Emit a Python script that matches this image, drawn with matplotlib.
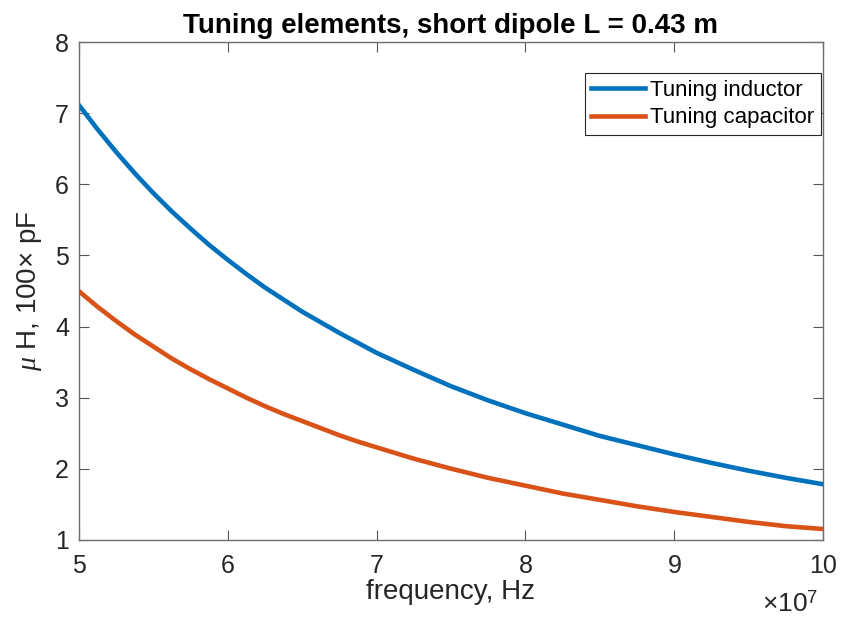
import matplotlib
matplotlib.use("Agg")
import matplotlib.pyplot as plt
from matplotlib.ticker import FuncFormatter

plt.rcParams['font.family'] = ['Liberation Sans', 'DejaVu Sans']
plt.rcParams['mathtext.fontset'] = 'custom'
plt.rcParams['mathtext.rm'] = 'Liberation Sans'
plt.rcParams['mathtext.it'] = 'Liberation Serif:italic'

freq_e7 = [5, 5.125, 5.25, 5.375, 5.5, 5.625, 5.75, 5.875, 6, 6.125, 6.25,
           6.375, 6.5, 6.625, 6.75, 6.875, 7, 7.25, 7.5, 7.75, 8,
           8.25, 8.5, 8.75, 9, 9.25, 9.5, 9.75, 10]
inductor = [7.12, 6.78, 6.46, 6.16, 5.88, 5.62, 5.38, 5.15, 4.94, 4.74, 4.55,
            4.38, 4.21, 4.06, 3.91, 3.77, 3.63, 3.39, 3.16,
            2.96, 2.78, 2.62, 2.46, 2.33, 2.20, 2.08, 1.97, 1.87, 1.78]
capacitor = [4.50, 4.28, 4.08, 3.89, 3.72, 3.55, 3.40, 3.26, 3.13, 3.00, 2.88,
             2.77, 2.67, 2.57, 2.47, 2.38, 2.30, 2.14, 2.00,
             1.87, 1.76, 1.65, 1.56, 1.47, 1.39, 1.32, 1.25, 1.19, 1.15]
freq = [f * 1e7 for f in freq_e7]
xticks_e7 = [5, 6, 7, 8, 9, 10]

gray = '#262626'

fig = plt.figure(figsize=(8.49, 6.17), dpi=100)
L, R, T, B = 78.7, 823.3, 42.3, 539.7
ax = fig.add_axes([L/849, 1-B/617, (R-L)/849, (B-T)/617])

ax.plot(freq, inductor, color='#0072BD', lw=3.3, label='Tuning inductor',
        solid_joinstyle='round')
ax.plot(freq, capacitor, color='#D95319', lw=3.3, label='Tuning capacitor',
        solid_joinstyle='round')

ax.set_xlim(5e7, 1e8)
ax.set_ylim(1, 8)
ax.set_xticks([v * 1e7 for v in xticks_e7])
ax.set_yticks(range(1, 9))
ax.xaxis.set_major_formatter(FuncFormatter(lambda v, p: f'{v/1e7:g}'))

ax.tick_params(direction='in', length=7, width=0.8, colors=gray,
               labelsize=18, top=True, right=True)
ax.tick_params(axis='x', pad=10, color='#555555')
ax.tick_params(axis='y', pad=7, color='#555555')
for s in ax.spines.values():
    s.set_color('#6e6e6e')
    s.set_linewidth(1.0)

ax.set_xlabel('frequency, Hz', fontsize=20, color=gray, labelpad=1)
ax.set_ylabel(r'$\mathit{\mu}$ H, 100$\times$ pF', fontsize=20, color=gray, labelpad=8)
ax.set_title('Tuning elements, short dipole L = 0.43 m', fontsize=20,
             fontweight='bold', color='black', pad=7)

fig.text(818/849, 1 - 612/617, r'$\times 10^{7}$', fontsize=19, color=gray,
         ha='right', va='baseline')

leg = ax.legend(loc='upper right', fontsize=16, frameon=True, fancybox=False,
                edgecolor='#262626', framealpha=1, handlelength=2.4,
                borderpad=0.3, labelspacing=0.3, handletextpad=0.25,
                borderaxespad=0, bbox_to_anchor=(0.997, 0.938))
leg.get_frame().set_linewidth(0.8)

fig.savefig('out.png', dpi=100)
